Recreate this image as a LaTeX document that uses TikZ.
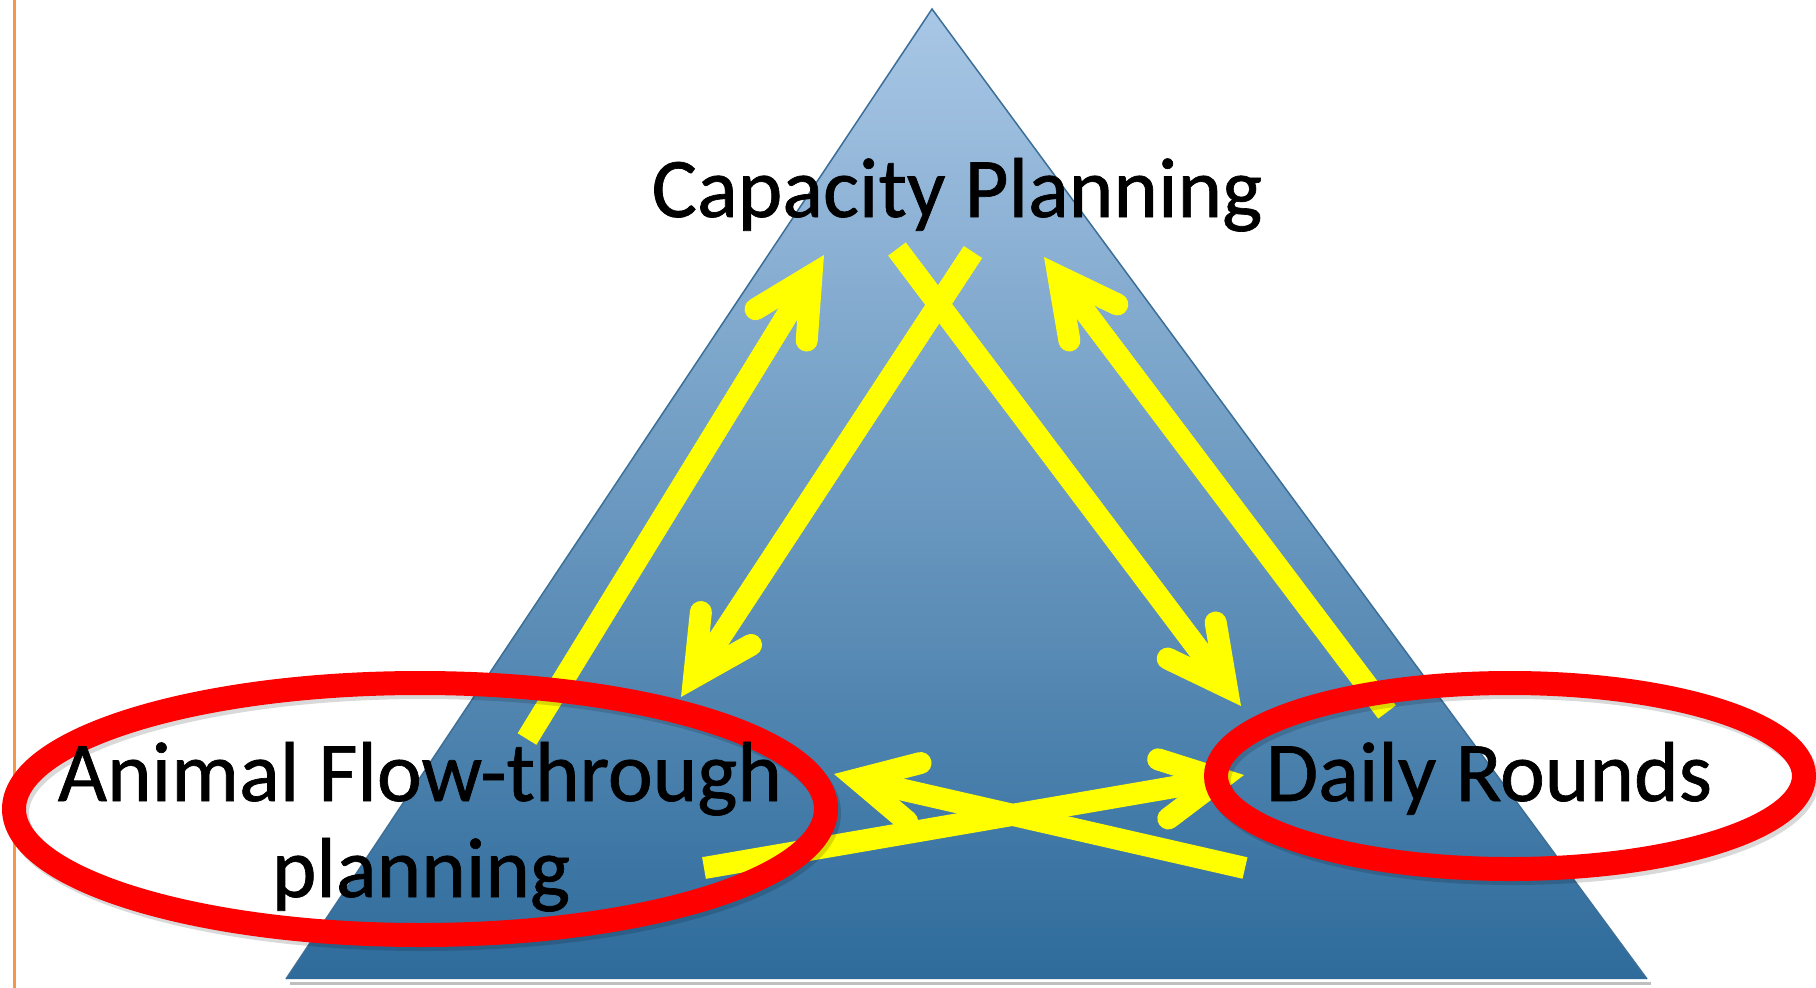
\documentclass[tikz,border=0pt]{standalone}
\usepackage{fontspec}
\setmainfont{Carlito}
\newfontfamily\labelfont{Carlito}[FakeBold=0.8]
\usetikzlibrary{arrows.meta}
\definecolor{triTop}{HTML}{A9C7E6}
\definecolor{triBot}{HTML}{2E6B9B}
\definecolor{triEdge}{HTML}{3C6F98}
\definecolor{sideOrange}{HTML}{F79646}
\definecolor{ringRed}{HTML}{FF0000}
\definecolor{flowYellow}{HTML}{FFFF00}
\tikzset{
  flow/.style={draw=flowYellow, line width=22pt, line cap=butt,
    -{Straight Barb[length=58pt, width=60pt, line cap=round, line join=miter]}},
  ring/.style={draw=ringRed, line width=24pt},
  ringshadow/.style={draw=black, opacity=0.15, line width=24pt},
  label/.style={font=\labelfont\fontsize{85}{102}\selectfont, text=black, inner sep=0pt, anchor=base}
}
\begin{document}
\begin{tikzpicture}[x=1pt, y=-1pt]
\useasboundingbox (0,0) rectangle (1816,988);
\fill[white] (0,0) rectangle (1816,988);
% orange margin line
\draw[sideOrange, line width=3pt] (14,0) -- (14,988);
% pyramid
\coordinate (apex) at (932,9);
\coordinate (bl) at (286,979);
\coordinate (br) at (1647,979);
\draw[black!25, line width=3pt] (290,983) -- (1651,983);
\shade[top color=triTop, bottom color=triBot] (apex) -- (br) -- (bl) -- cycle;
\draw[triEdge, line width=1.5pt] (bl) -- (apex) -- (br);
% arrow end points
\coordinate (a1s) at (527,739);  \coordinate (a1e) at (824,255);
\coordinate (a2s) at (973,252);  \coordinate (a2e) at (681,697);
\coordinate (a3s) at (897,249);  \coordinate (a3e) at (1241,706);
\coordinate (a4s) at (1387,712); \coordinate (a4e) at (1044,257);
\coordinate (a5s) at (704,868);  \coordinate (a5e) at (1244,775);
\coordinate (a6s) at (1245,868); \coordinate (a6e) at (834,774);
\draw[flow] (a1s) -- (a1e);
\draw[flow] (a2s) -- (a2e);
\draw[flow] (a3s) -- (a3e);
\draw[flow] (a4s) -- (a4e);
\draw[flow] (a5s) -- (a5e);
\draw[flow] (a6s) -- (a6e);
% red rings
\coordinate (lc) at (420,809);
\coordinate (rc) at (1510,776);
\draw[ringshadow] ([shift={(3,4)}]lc) ellipse [x radius=406, y radius=126];
\draw[ringshadow] ([shift={(3,4)}]rc) ellipse [x radius=294, y radius=93];
\draw[ring] (lc) ellipse [x radius=406, y radius=126];
\draw[ring] (rc) ellipse [x radius=294, y radius=93];
% labels
\node[label] (cap) at (957,217) {Capacity Planning};
\node[label] (afl) at (420,801) {Animal Flow-through};
\node[label] (afp) at (421,897) {planning};
\node[label] (dr) at (1489,801) {Daily Rounds};
\end{tikzpicture}
\end{document}
